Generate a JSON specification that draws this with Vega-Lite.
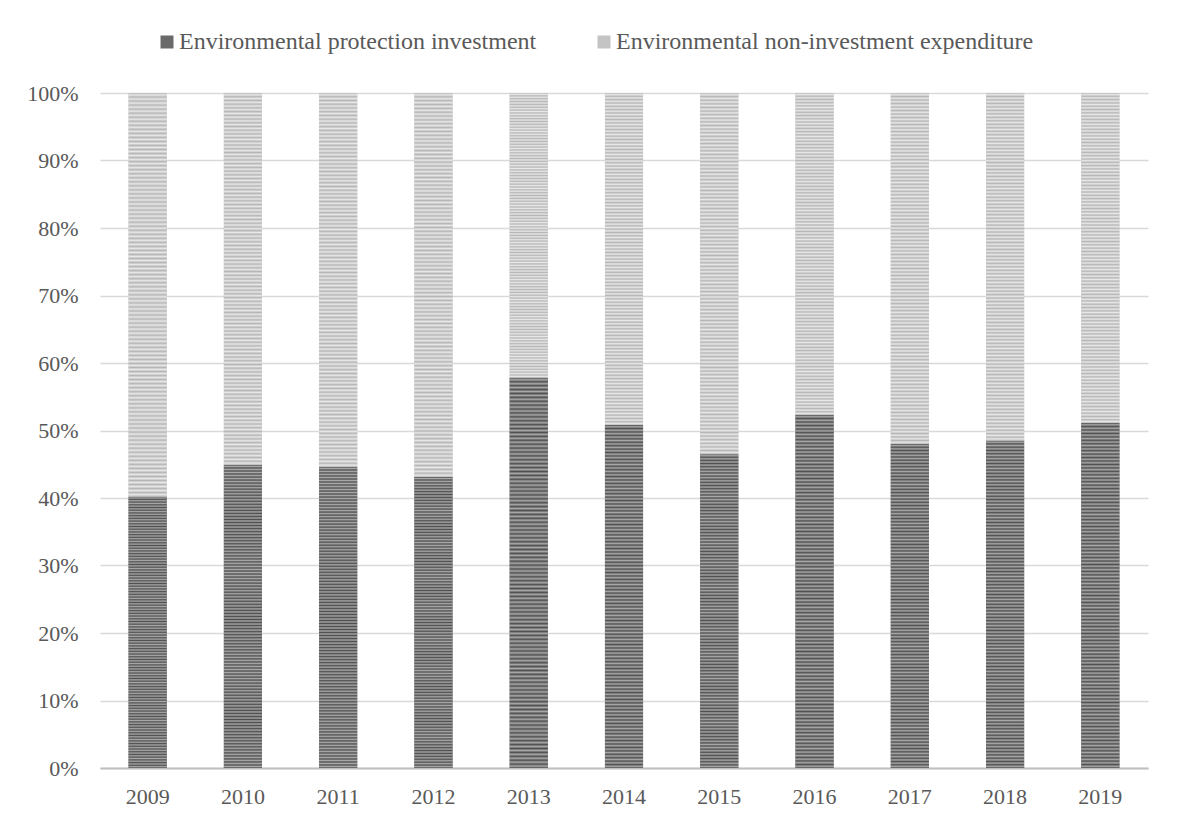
{
  "$schema": "https://vega.github.io/schema/vega-lite/v6.json",
  "width": 1048,
  "height": 675,
  "autosize": {"type": "none"},
  "padding": {"left": 100, "top": 93, "right": 29, "bottom": 53},
  "background": "white",
  "config": {
    "font": "Liberation Serif",
    "view": {"stroke": null},
    "axis": {"labelFont": "Liberation Serif", "labelFontSize": 22, "labelColor": "#595959", "title": null}
  },
  "data": {
    "values": [
      {"year": "2009", "series": "Environmental protection investment", "order": 1, "value": 40.2},
      {"year": "2009", "series": "Environmental non-investment expenditure", "order": 2, "value": 59.8},
      {"year": "2010", "series": "Environmental protection investment", "order": 1, "value": 44.9},
      {"year": "2010", "series": "Environmental non-investment expenditure", "order": 2, "value": 55.1},
      {"year": "2011", "series": "Environmental protection investment", "order": 1, "value": 44.6},
      {"year": "2011", "series": "Environmental non-investment expenditure", "order": 2, "value": 55.4},
      {"year": "2012", "series": "Environmental protection investment", "order": 1, "value": 43.1},
      {"year": "2012", "series": "Environmental non-investment expenditure", "order": 2, "value": 56.9},
      {"year": "2013", "series": "Environmental protection investment", "order": 1, "value": 57.8},
      {"year": "2013", "series": "Environmental non-investment expenditure", "order": 2, "value": 42.2},
      {"year": "2014", "series": "Environmental protection investment", "order": 1, "value": 50.8},
      {"year": "2014", "series": "Environmental non-investment expenditure", "order": 2, "value": 49.2},
      {"year": "2015", "series": "Environmental protection investment", "order": 1, "value": 46.5},
      {"year": "2015", "series": "Environmental non-investment expenditure", "order": 2, "value": 53.5},
      {"year": "2016", "series": "Environmental protection investment", "order": 1, "value": 52.3},
      {"year": "2016", "series": "Environmental non-investment expenditure", "order": 2, "value": 47.7},
      {"year": "2017", "series": "Environmental protection investment", "order": 1, "value": 48.0},
      {"year": "2017", "series": "Environmental non-investment expenditure", "order": 2, "value": 52.0},
      {"year": "2018", "series": "Environmental protection investment", "order": 1, "value": 48.5},
      {"year": "2018", "series": "Environmental non-investment expenditure", "order": 2, "value": 51.5},
      {"year": "2019", "series": "Environmental protection investment", "order": 1, "value": 51.1},
      {"year": "2019", "series": "Environmental non-investment expenditure", "order": 2, "value": 48.9}
    ]
  },
  "encoding": {
    "x": {
      "field": "year", "type": "ordinal",
      "scale": {"paddingInner": 0.6, "paddingOuter": 0.3},
      "axis": {"labelAngle": 0, "domain": true, "domainColor": "#bfbfbf", "domainWidth": 2, "ticks": false, "tickSize": 0, "labelPadding": 18, "grid": false}
    },
    "y": {
      "field": "value", "type": "quantitative", "stack": "normalize",
      "scale": {"domain": [0, 1], "nice": false},
      "axis": {"values": [0, 0.1, 0.2, 0.3, 0.4, 0.5, 0.6, 0.7, 0.8, 0.9, 1], "format": ".0%", "domain": false, "ticks": false, "tickSize": 0, "labelPadding": 22, "grid": true, "gridColor": "#d9d9d9", "gridWidth": 1.5}
    },
    "order": {"field": "order", "type": "quantitative"}
  },
  "layer": [
    {
      "mark": {"type": "bar"},
      "encoding": {
        "color": {
          "field": "series", "type": "nominal",
          "scale": {"domain": ["Environmental protection investment", "Environmental non-investment expenditure"], "range": ["#6a6a6a", "#c4c4c4"]},
          "legend": {"orient": "none", "legendX": 55, "legendY": -63, "direction": "horizontal", "columns": 2, "title": null, "symbolType": "square", "symbolSize": 169, "symbolStrokeWidth": 0, "labelFont": "Liberation Serif", "labelFontSize": 24, "labelLimit": 0, "labelColor": "#595959", "labelOffset": 0, "columnPadding": 55, "padding": 0}
        }
      }
    },
    {
      "mark": {"type": "bar"},
      "encoding": {
        "detail": {"field": "series"},
        "fill": {
          "condition": {
            "test": "datum.order === 1",
            "value": {"gradient": "linear", "x1": 0, "y1": 0, "x2": 0, "y2": 1, "stops": [
{"offset":0,"color":"#505050"},{"offset":0.005,"color":"#a8a8a8"},{"offset":0.01,"color":"#505050"},{"offset":0.015,"color":"#a8a8a8"},{"offset":0.02,"color":"#505050"},{"offset":0.025,"color":"#a8a8a8"},{"offset":0.03,"color":"#505050"},{"offset":0.035,"color":"#a8a8a8"},{"offset":0.04,"color":"#505050"},{"offset":0.045,"color":"#a8a8a8"},
{"offset":0.05,"color":"#505050"},{"offset":0.055,"color":"#a8a8a8"},{"offset":0.06,"color":"#505050"},{"offset":0.065,"color":"#a8a8a8"},{"offset":0.07,"color":"#505050"},{"offset":0.075,"color":"#a8a8a8"},{"offset":0.08,"color":"#505050"},{"offset":0.085,"color":"#a8a8a8"},{"offset":0.09,"color":"#505050"},{"offset":0.095,"color":"#a8a8a8"},
{"offset":0.1,"color":"#505050"},{"offset":0.105,"color":"#a8a8a8"},{"offset":0.11,"color":"#505050"},{"offset":0.115,"color":"#a8a8a8"},{"offset":0.12,"color":"#505050"},{"offset":0.125,"color":"#a8a8a8"},{"offset":0.13,"color":"#505050"},{"offset":0.135,"color":"#a8a8a8"},{"offset":0.14,"color":"#505050"},{"offset":0.145,"color":"#a8a8a8"},
{"offset":0.15,"color":"#505050"},{"offset":0.155,"color":"#a8a8a8"},{"offset":0.16,"color":"#505050"},{"offset":0.165,"color":"#a8a8a8"},{"offset":0.17,"color":"#505050"},{"offset":0.175,"color":"#a8a8a8"},{"offset":0.18,"color":"#505050"},{"offset":0.185,"color":"#a8a8a8"},{"offset":0.19,"color":"#505050"},{"offset":0.195,"color":"#a8a8a8"},
{"offset":0.2,"color":"#505050"},{"offset":0.205,"color":"#a8a8a8"},{"offset":0.21,"color":"#505050"},{"offset":0.215,"color":"#a8a8a8"},{"offset":0.22,"color":"#505050"},{"offset":0.225,"color":"#a8a8a8"},{"offset":0.23,"color":"#505050"},{"offset":0.235,"color":"#a8a8a8"},{"offset":0.24,"color":"#505050"},{"offset":0.245,"color":"#a8a8a8"},
{"offset":0.25,"color":"#505050"},{"offset":0.255,"color":"#a8a8a8"},{"offset":0.26,"color":"#505050"},{"offset":0.265,"color":"#a8a8a8"},{"offset":0.27,"color":"#505050"},{"offset":0.275,"color":"#a8a8a8"},{"offset":0.28,"color":"#505050"},{"offset":0.285,"color":"#a8a8a8"},{"offset":0.29,"color":"#505050"},{"offset":0.295,"color":"#a8a8a8"},
{"offset":0.3,"color":"#505050"},{"offset":0.305,"color":"#a8a8a8"},{"offset":0.31,"color":"#505050"},{"offset":0.315,"color":"#a8a8a8"},{"offset":0.32,"color":"#505050"},{"offset":0.325,"color":"#a8a8a8"},{"offset":0.33,"color":"#505050"},{"offset":0.335,"color":"#a8a8a8"},{"offset":0.34,"color":"#505050"},{"offset":0.345,"color":"#a8a8a8"},
{"offset":0.35,"color":"#505050"},{"offset":0.355,"color":"#a8a8a8"},{"offset":0.36,"color":"#505050"},{"offset":0.365,"color":"#a8a8a8"},{"offset":0.37,"color":"#505050"},{"offset":0.375,"color":"#a8a8a8"},{"offset":0.38,"color":"#505050"},{"offset":0.385,"color":"#a8a8a8"},{"offset":0.39,"color":"#505050"},{"offset":0.395,"color":"#a8a8a8"},
{"offset":0.4,"color":"#505050"},{"offset":0.405,"color":"#a8a8a8"},{"offset":0.41,"color":"#505050"},{"offset":0.415,"color":"#a8a8a8"},{"offset":0.42,"color":"#505050"},{"offset":0.425,"color":"#a8a8a8"},{"offset":0.43,"color":"#505050"},{"offset":0.435,"color":"#a8a8a8"},{"offset":0.44,"color":"#505050"},{"offset":0.445,"color":"#a8a8a8"},
{"offset":0.45,"color":"#505050"},{"offset":0.455,"color":"#a8a8a8"},{"offset":0.46,"color":"#505050"},{"offset":0.465,"color":"#a8a8a8"},{"offset":0.47,"color":"#505050"},{"offset":0.475,"color":"#a8a8a8"},{"offset":0.48,"color":"#505050"},{"offset":0.485,"color":"#a8a8a8"},{"offset":0.49,"color":"#505050"},{"offset":0.495,"color":"#a8a8a8"},
{"offset":0.5,"color":"#505050"},{"offset":0.505,"color":"#a8a8a8"},{"offset":0.51,"color":"#505050"},{"offset":0.515,"color":"#a8a8a8"},{"offset":0.52,"color":"#505050"},{"offset":0.525,"color":"#a8a8a8"},{"offset":0.53,"color":"#505050"},{"offset":0.535,"color":"#a8a8a8"},{"offset":0.54,"color":"#505050"},{"offset":0.545,"color":"#a8a8a8"},
{"offset":0.55,"color":"#505050"},{"offset":0.555,"color":"#a8a8a8"},{"offset":0.56,"color":"#505050"},{"offset":0.565,"color":"#a8a8a8"},{"offset":0.57,"color":"#505050"},{"offset":0.575,"color":"#a8a8a8"},{"offset":0.58,"color":"#505050"},{"offset":0.585,"color":"#a8a8a8"},{"offset":0.59,"color":"#505050"},{"offset":0.595,"color":"#a8a8a8"},
{"offset":0.6,"color":"#505050"},{"offset":0.605,"color":"#a8a8a8"},{"offset":0.61,"color":"#505050"},{"offset":0.615,"color":"#a8a8a8"},{"offset":0.62,"color":"#505050"},{"offset":0.625,"color":"#a8a8a8"},{"offset":0.63,"color":"#505050"},{"offset":0.635,"color":"#a8a8a8"},{"offset":0.64,"color":"#505050"},{"offset":0.645,"color":"#a8a8a8"},
{"offset":0.65,"color":"#505050"},{"offset":0.655,"color":"#a8a8a8"},{"offset":0.66,"color":"#505050"},{"offset":0.665,"color":"#a8a8a8"},{"offset":0.67,"color":"#505050"},{"offset":0.675,"color":"#a8a8a8"},{"offset":0.68,"color":"#505050"},{"offset":0.685,"color":"#a8a8a8"},{"offset":0.69,"color":"#505050"},{"offset":0.695,"color":"#a8a8a8"},
{"offset":0.7,"color":"#505050"},{"offset":0.705,"color":"#a8a8a8"},{"offset":0.71,"color":"#505050"},{"offset":0.715,"color":"#a8a8a8"},{"offset":0.72,"color":"#505050"},{"offset":0.725,"color":"#a8a8a8"},{"offset":0.73,"color":"#505050"},{"offset":0.735,"color":"#a8a8a8"},{"offset":0.74,"color":"#505050"},{"offset":0.745,"color":"#a8a8a8"},
{"offset":0.75,"color":"#505050"},{"offset":0.755,"color":"#a8a8a8"},{"offset":0.76,"color":"#505050"},{"offset":0.765,"color":"#a8a8a8"},{"offset":0.77,"color":"#505050"},{"offset":0.775,"color":"#a8a8a8"},{"offset":0.78,"color":"#505050"},{"offset":0.785,"color":"#a8a8a8"},{"offset":0.79,"color":"#505050"},{"offset":0.795,"color":"#a8a8a8"},
{"offset":0.8,"color":"#505050"},{"offset":0.805,"color":"#a8a8a8"},{"offset":0.81,"color":"#505050"},{"offset":0.815,"color":"#a8a8a8"},{"offset":0.82,"color":"#505050"},{"offset":0.825,"color":"#a8a8a8"},{"offset":0.83,"color":"#505050"},{"offset":0.835,"color":"#a8a8a8"},{"offset":0.84,"color":"#505050"},{"offset":0.845,"color":"#a8a8a8"},
{"offset":0.85,"color":"#505050"},{"offset":0.855,"color":"#a8a8a8"},{"offset":0.86,"color":"#505050"},{"offset":0.865,"color":"#a8a8a8"},{"offset":0.87,"color":"#505050"},{"offset":0.875,"color":"#a8a8a8"},{"offset":0.88,"color":"#505050"},{"offset":0.885,"color":"#a8a8a8"},{"offset":0.89,"color":"#505050"},{"offset":0.895,"color":"#a8a8a8"},
{"offset":0.9,"color":"#505050"},{"offset":0.905,"color":"#a8a8a8"},{"offset":0.91,"color":"#505050"},{"offset":0.915,"color":"#a8a8a8"},{"offset":0.92,"color":"#505050"},{"offset":0.925,"color":"#a8a8a8"},{"offset":0.93,"color":"#505050"},{"offset":0.935,"color":"#a8a8a8"},{"offset":0.94,"color":"#505050"},{"offset":0.945,"color":"#a8a8a8"},
{"offset":0.95,"color":"#505050"},{"offset":0.955,"color":"#a8a8a8"},{"offset":0.96,"color":"#505050"},{"offset":0.965,"color":"#a8a8a8"},{"offset":0.97,"color":"#505050"},{"offset":0.975,"color":"#a8a8a8"},{"offset":0.98,"color":"#505050"},{"offset":0.985,"color":"#a8a8a8"},{"offset":0.99,"color":"#505050"},{"offset":0.995,"color":"#a8a8a8"},
{"offset":1,"color":"#505050"}
            ]}
          },
          "value": {"gradient": "linear", "x1": 0, "y1": 0, "x2": 0, "y2": 1, "stops": [
{"offset":0,"color":"#b6b6b6"},{"offset":0.005,"color":"#e8e8e8"},{"offset":0.01,"color":"#b6b6b6"},{"offset":0.015,"color":"#e8e8e8"},{"offset":0.02,"color":"#b6b6b6"},{"offset":0.025,"color":"#e8e8e8"},{"offset":0.03,"color":"#b6b6b6"},{"offset":0.035,"color":"#e8e8e8"},{"offset":0.04,"color":"#b6b6b6"},{"offset":0.045,"color":"#e8e8e8"},
{"offset":0.05,"color":"#b6b6b6"},{"offset":0.055,"color":"#e8e8e8"},{"offset":0.06,"color":"#b6b6b6"},{"offset":0.065,"color":"#e8e8e8"},{"offset":0.07,"color":"#b6b6b6"},{"offset":0.075,"color":"#e8e8e8"},{"offset":0.08,"color":"#b6b6b6"},{"offset":0.085,"color":"#e8e8e8"},{"offset":0.09,"color":"#b6b6b6"},{"offset":0.095,"color":"#e8e8e8"},
{"offset":0.1,"color":"#b6b6b6"},{"offset":0.105,"color":"#e8e8e8"},{"offset":0.11,"color":"#b6b6b6"},{"offset":0.115,"color":"#e8e8e8"},{"offset":0.12,"color":"#b6b6b6"},{"offset":0.125,"color":"#e8e8e8"},{"offset":0.13,"color":"#b6b6b6"},{"offset":0.135,"color":"#e8e8e8"},{"offset":0.14,"color":"#b6b6b6"},{"offset":0.145,"color":"#e8e8e8"},
{"offset":0.15,"color":"#b6b6b6"},{"offset":0.155,"color":"#e8e8e8"},{"offset":0.16,"color":"#b6b6b6"},{"offset":0.165,"color":"#e8e8e8"},{"offset":0.17,"color":"#b6b6b6"},{"offset":0.175,"color":"#e8e8e8"},{"offset":0.18,"color":"#b6b6b6"},{"offset":0.185,"color":"#e8e8e8"},{"offset":0.19,"color":"#b6b6b6"},{"offset":0.195,"color":"#e8e8e8"},
{"offset":0.2,"color":"#b6b6b6"},{"offset":0.205,"color":"#e8e8e8"},{"offset":0.21,"color":"#b6b6b6"},{"offset":0.215,"color":"#e8e8e8"},{"offset":0.22,"color":"#b6b6b6"},{"offset":0.225,"color":"#e8e8e8"},{"offset":0.23,"color":"#b6b6b6"},{"offset":0.235,"color":"#e8e8e8"},{"offset":0.24,"color":"#b6b6b6"},{"offset":0.245,"color":"#e8e8e8"},
{"offset":0.25,"color":"#b6b6b6"},{"offset":0.255,"color":"#e8e8e8"},{"offset":0.26,"color":"#b6b6b6"},{"offset":0.265,"color":"#e8e8e8"},{"offset":0.27,"color":"#b6b6b6"},{"offset":0.275,"color":"#e8e8e8"},{"offset":0.28,"color":"#b6b6b6"},{"offset":0.285,"color":"#e8e8e8"},{"offset":0.29,"color":"#b6b6b6"},{"offset":0.295,"color":"#e8e8e8"},
{"offset":0.3,"color":"#b6b6b6"},{"offset":0.305,"color":"#e8e8e8"},{"offset":0.31,"color":"#b6b6b6"},{"offset":0.315,"color":"#e8e8e8"},{"offset":0.32,"color":"#b6b6b6"},{"offset":0.325,"color":"#e8e8e8"},{"offset":0.33,"color":"#b6b6b6"},{"offset":0.335,"color":"#e8e8e8"},{"offset":0.34,"color":"#b6b6b6"},{"offset":0.345,"color":"#e8e8e8"},
{"offset":0.35,"color":"#b6b6b6"},{"offset":0.355,"color":"#e8e8e8"},{"offset":0.36,"color":"#b6b6b6"},{"offset":0.365,"color":"#e8e8e8"},{"offset":0.37,"color":"#b6b6b6"},{"offset":0.375,"color":"#e8e8e8"},{"offset":0.38,"color":"#b6b6b6"},{"offset":0.385,"color":"#e8e8e8"},{"offset":0.39,"color":"#b6b6b6"},{"offset":0.395,"color":"#e8e8e8"},
{"offset":0.4,"color":"#b6b6b6"},{"offset":0.405,"color":"#e8e8e8"},{"offset":0.41,"color":"#b6b6b6"},{"offset":0.415,"color":"#e8e8e8"},{"offset":0.42,"color":"#b6b6b6"},{"offset":0.425,"color":"#e8e8e8"},{"offset":0.43,"color":"#b6b6b6"},{"offset":0.435,"color":"#e8e8e8"},{"offset":0.44,"color":"#b6b6b6"},{"offset":0.445,"color":"#e8e8e8"},
{"offset":0.45,"color":"#b6b6b6"},{"offset":0.455,"color":"#e8e8e8"},{"offset":0.46,"color":"#b6b6b6"},{"offset":0.465,"color":"#e8e8e8"},{"offset":0.47,"color":"#b6b6b6"},{"offset":0.475,"color":"#e8e8e8"},{"offset":0.48,"color":"#b6b6b6"},{"offset":0.485,"color":"#e8e8e8"},{"offset":0.49,"color":"#b6b6b6"},{"offset":0.495,"color":"#e8e8e8"},
{"offset":0.5,"color":"#b6b6b6"},{"offset":0.505,"color":"#e8e8e8"},{"offset":0.51,"color":"#b6b6b6"},{"offset":0.515,"color":"#e8e8e8"},{"offset":0.52,"color":"#b6b6b6"},{"offset":0.525,"color":"#e8e8e8"},{"offset":0.53,"color":"#b6b6b6"},{"offset":0.535,"color":"#e8e8e8"},{"offset":0.54,"color":"#b6b6b6"},{"offset":0.545,"color":"#e8e8e8"},
{"offset":0.55,"color":"#b6b6b6"},{"offset":0.555,"color":"#e8e8e8"},{"offset":0.56,"color":"#b6b6b6"},{"offset":0.565,"color":"#e8e8e8"},{"offset":0.57,"color":"#b6b6b6"},{"offset":0.575,"color":"#e8e8e8"},{"offset":0.58,"color":"#b6b6b6"},{"offset":0.585,"color":"#e8e8e8"},{"offset":0.59,"color":"#b6b6b6"},{"offset":0.595,"color":"#e8e8e8"},
{"offset":0.6,"color":"#b6b6b6"},{"offset":0.605,"color":"#e8e8e8"},{"offset":0.61,"color":"#b6b6b6"},{"offset":0.615,"color":"#e8e8e8"},{"offset":0.62,"color":"#b6b6b6"},{"offset":0.625,"color":"#e8e8e8"},{"offset":0.63,"color":"#b6b6b6"},{"offset":0.635,"color":"#e8e8e8"},{"offset":0.64,"color":"#b6b6b6"},{"offset":0.645,"color":"#e8e8e8"},
{"offset":0.65,"color":"#b6b6b6"},{"offset":0.655,"color":"#e8e8e8"},{"offset":0.66,"color":"#b6b6b6"},{"offset":0.665,"color":"#e8e8e8"},{"offset":0.67,"color":"#b6b6b6"},{"offset":0.675,"color":"#e8e8e8"},{"offset":0.68,"color":"#b6b6b6"},{"offset":0.685,"color":"#e8e8e8"},{"offset":0.69,"color":"#b6b6b6"},{"offset":0.695,"color":"#e8e8e8"},
{"offset":0.7,"color":"#b6b6b6"},{"offset":0.705,"color":"#e8e8e8"},{"offset":0.71,"color":"#b6b6b6"},{"offset":0.715,"color":"#e8e8e8"},{"offset":0.72,"color":"#b6b6b6"},{"offset":0.725,"color":"#e8e8e8"},{"offset":0.73,"color":"#b6b6b6"},{"offset":0.735,"color":"#e8e8e8"},{"offset":0.74,"color":"#b6b6b6"},{"offset":0.745,"color":"#e8e8e8"},
{"offset":0.75,"color":"#b6b6b6"},{"offset":0.755,"color":"#e8e8e8"},{"offset":0.76,"color":"#b6b6b6"},{"offset":0.765,"color":"#e8e8e8"},{"offset":0.77,"color":"#b6b6b6"},{"offset":0.775,"color":"#e8e8e8"},{"offset":0.78,"color":"#b6b6b6"},{"offset":0.785,"color":"#e8e8e8"},{"offset":0.79,"color":"#b6b6b6"},{"offset":0.795,"color":"#e8e8e8"},
{"offset":0.8,"color":"#b6b6b6"},{"offset":0.805,"color":"#e8e8e8"},{"offset":0.81,"color":"#b6b6b6"},{"offset":0.815,"color":"#e8e8e8"},{"offset":0.82,"color":"#b6b6b6"},{"offset":0.825,"color":"#e8e8e8"},{"offset":0.83,"color":"#b6b6b6"},{"offset":0.835,"color":"#e8e8e8"},{"offset":0.84,"color":"#b6b6b6"},{"offset":0.845,"color":"#e8e8e8"},
{"offset":0.85,"color":"#b6b6b6"},{"offset":0.855,"color":"#e8e8e8"},{"offset":0.86,"color":"#b6b6b6"},{"offset":0.865,"color":"#e8e8e8"},{"offset":0.87,"color":"#b6b6b6"},{"offset":0.875,"color":"#e8e8e8"},{"offset":0.88,"color":"#b6b6b6"},{"offset":0.885,"color":"#e8e8e8"},{"offset":0.89,"color":"#b6b6b6"},{"offset":0.895,"color":"#e8e8e8"},
{"offset":0.9,"color":"#b6b6b6"},{"offset":0.905,"color":"#e8e8e8"},{"offset":0.91,"color":"#b6b6b6"},{"offset":0.915,"color":"#e8e8e8"},{"offset":0.92,"color":"#b6b6b6"},{"offset":0.925,"color":"#e8e8e8"},{"offset":0.93,"color":"#b6b6b6"},{"offset":0.935,"color":"#e8e8e8"},{"offset":0.94,"color":"#b6b6b6"},{"offset":0.945,"color":"#e8e8e8"},
{"offset":0.95,"color":"#b6b6b6"},{"offset":0.955,"color":"#e8e8e8"},{"offset":0.96,"color":"#b6b6b6"},{"offset":0.965,"color":"#e8e8e8"},{"offset":0.97,"color":"#b6b6b6"},{"offset":0.975,"color":"#e8e8e8"},{"offset":0.98,"color":"#b6b6b6"},{"offset":0.985,"color":"#e8e8e8"},{"offset":0.99,"color":"#b6b6b6"},{"offset":0.995,"color":"#e8e8e8"},
{"offset":1,"color":"#b6b6b6"}
          ]}
        }
      }
    }
  ]
}
